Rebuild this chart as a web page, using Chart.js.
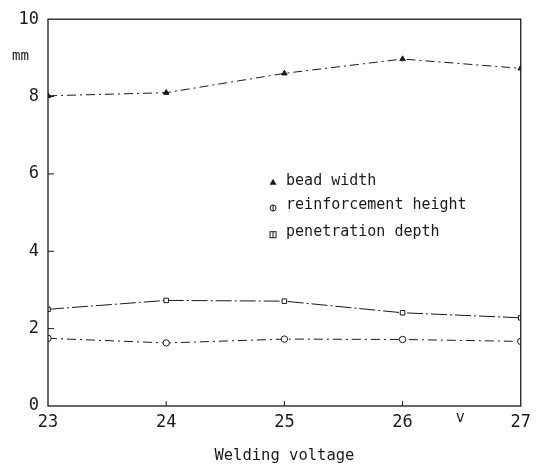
<!DOCTYPE html>
<html>
<head>
<meta charset="utf-8">
<script src="https://cdn.jsdelivr.net/npm/chart.js@4.4.0/dist/chart.umd.min.js"></script>
<style>
html,body{margin:0;padding:0;background:#fff;}
#wrap{width:537px;height:469px;position:relative;}
</style>
</head>
<body>
<div id="wrap"><canvas id="c" width="537" height="469"></canvas></div>
<script>
const voltages = [23, 24, 25, 26, 27];
const beadWidth = [8.02, 8.1, 8.6, 8.97, 8.73];
const reinforcementHeight = [1.75, 1.63, 1.73, 1.72, 1.67];
const penetrationDepth = [2.5, 2.73, 2.71, 2.41, 2.28];
const yTicks = [0, 2, 4, 6, 8, 10];
const xTicks = [23, 24, 25, 26, 27];
const seriesNames = ['bead width', 'reinforcement height', 'penetration depth'];

const FONT = '"DejaVu Sans Mono", "Liberation Mono", monospace';
const INK = '#1a1a1a';

function pts(vals){ return voltages.map((v,i)=>({x:v,y:vals[i]})); }

const framePlugin = {
  id:'frame',
  afterDraw(chart){
    const {ctx, chartArea:a, scales} = chart;
    ctx.save();
    ctx.strokeStyle = INK;
    ctx.lineWidth = 1.3;
    ctx.strokeRect(a.left, a.top, a.right-a.left, a.bottom-a.top);
    // inward ticks
    ctx.lineWidth = 1;
    xTicks.slice(1,-1).forEach(v=>{
      const x = scales.x.getPixelForValue(v);
      ctx.beginPath(); ctx.moveTo(x, a.bottom); ctx.lineTo(x, a.bottom-5); ctx.stroke();
    });
    yTicks.slice(1,-1).forEach(v=>{
      const y = scales.y.getPixelForValue(v);
      ctx.beginPath(); ctx.moveTo(a.left, y); ctx.lineTo(a.left+6, y); ctx.stroke();
    });
    // unit labels
    ctx.fillStyle = INK;
    ctx.font = '14px ' + FONT;
    ctx.textAlign = 'left'; ctx.textBaseline = 'middle';
    ctx.fillText('mm', 12, scales.y.getPixelForValue(9.05));
    ctx.font = '15px ' + FONT;
    ctx.fillText('v', scales.x.getPixelForValue(26.45), a.bottom + 12);
    // legend
    const lx = a.left + 0.476*(a.right-a.left);
    const ly = [5.8, 5.17, 4.48].map(v=>scales.y.getPixelForValue(v));
    ctx.font = '15px ' + FONT;
    ctx.textBaseline = 'middle';
    seriesNames.forEach((n,i)=>{
      const y = ly[i];
      ctx.fillStyle = INK; ctx.strokeStyle = INK; ctx.lineWidth = 1;
      if(i===0){
        ctx.beginPath(); ctx.moveTo(lx, y-3); ctx.lineTo(lx+3.5, y+3); ctx.lineTo(lx-3.5, y+3); ctx.closePath(); ctx.fill();
      } else if(i===1){
        ctx.beginPath(); ctx.arc(lx, y+2, 3, 0, Math.PI*2); ctx.stroke();
        ctx.beginPath(); ctx.moveTo(lx, y-1); ctx.lineTo(lx, y+5); ctx.stroke();
      } else {
        ctx.strokeRect(lx-3, y-1, 6, 6);
        ctx.beginPath(); ctx.moveTo(lx, y-1); ctx.lineTo(lx, y+5); ctx.stroke();
      }
      ctx.fillText(n, lx+13, y-1);
    });
    ctx.restore();
  }
};

new Chart(document.getElementById('c'), {
  type:'line',
  data:{
    datasets:[
      {label:seriesNames[0], data:pts(beadWidth), borderColor:INK, borderWidth:1, borderDash:[9,4,2,4],
       pointStyle:'triangle', pointRadius:3.2, pointBackgroundColor:INK, pointBorderColor:INK, pointBorderWidth:1, tension:0},
      {label:seriesNames[1], data:pts(reinforcementHeight), borderColor:INK, borderWidth:1, borderDash:[9,4,2,4],
       pointStyle:'circle', pointRadius:3.2, pointBackgroundColor:'#fff', pointBorderColor:INK, pointBorderWidth:1, tension:0},
      {label:seriesNames[2], data:pts(penetrationDepth), borderColor:INK, borderWidth:1, borderDash:[16,3,2,3],
       pointStyle:'rect', pointRadius:3.2, pointBackgroundColor:'#fff', pointBorderColor:INK, pointBorderWidth:1, tension:0}
    ]
  },
  options:{
    responsive:false, animation:false,
    layout:{padding:{left:0, right:16, top:11, bottom:0}},
    plugins:{legend:{display:false}, tooltip:{enabled:false}},
    scales:{
      x:{type:'linear', min:23, max:27,
        afterBuildTicks(s){ s.ticks = xTicks.map(v=>({value:v})); },
        afterFit(s){ s.height = 63; },
        grid:{display:false, drawTicks:false}, border:{display:false},
        ticks:{color:INK, font:{family:FONT, size:17}, padding:6, maxRotation:0},
        title:{display:true, text:'Welding voltage', color:INK, font:{family:FONT, size:15.5}, padding:{top:16}}
      },
      y:{min:0, max:10,
        afterBuildTicks(s){ s.ticks = yTicks.map(v=>({value:v})); },
        afterFit(s){ s.width = 48; },
        grid:{display:false, drawTicks:false}, border:{display:false},
        ticks:{color:INK, font:{family:FONT, size:17}, padding:9}
      }
    }
  },
  plugins:[framePlugin]
});
</script>
</body>
</html>
